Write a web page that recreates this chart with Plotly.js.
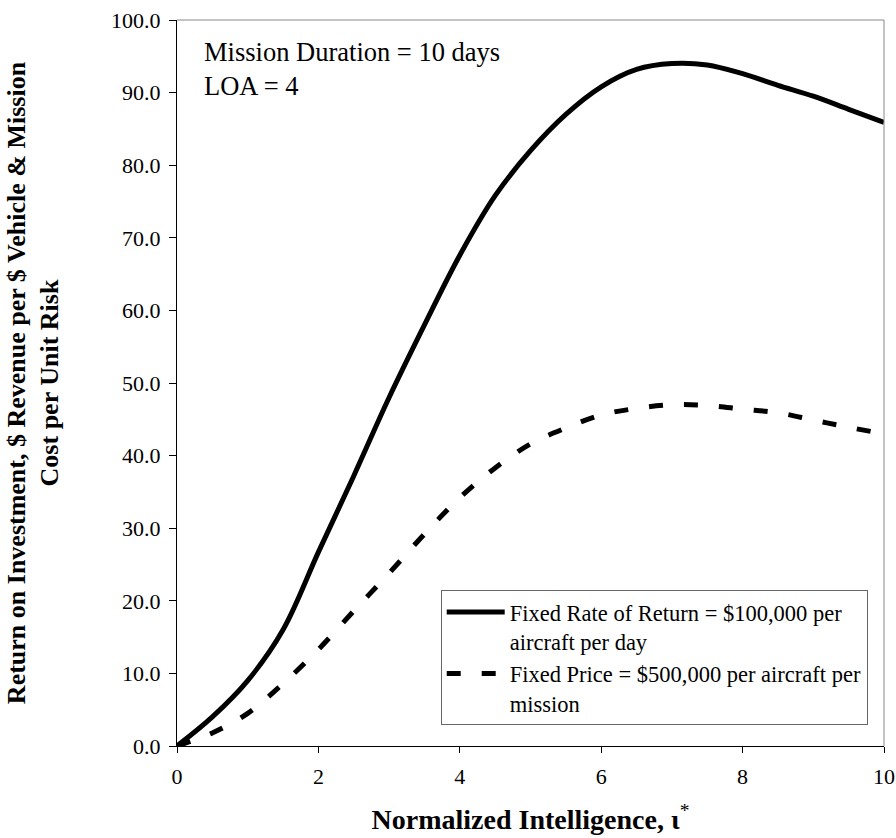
<!DOCTYPE html>
<html>
<head>
<meta charset="utf-8">
<script src="https://cdn.plot.ly/plotly-3.0.1.min.js"></script>
<style>html,body{margin:0;padding:0;background:#fff;}#chart{width:896px;height:838px;}</style>
</head>
<body>
<div id="chart"></div>
<script>
const xValues = [0, 0.5, 1, 1.5, 2, 2.5, 3, 3.5, 4, 4.5, 5, 5.5, 6, 6.5, 7, 7.5, 8, 8.5, 9, 9.5, 10];
const fixedRateROI = [0, 4.0, 9.0, 16.0, 26.7, 37.2, 48.0, 58.0, 67.6, 75.8, 82.0, 87.0, 90.8, 93.2, 94.0, 93.8, 92.6, 91.0, 89.5, 87.7, 85.9];
const fixedPriceROI = [0, 1.8, 4.5, 8.6, 13.3, 18.6, 23.8, 29.2, 34.2, 38.3, 41.6, 43.8, 45.6, 46.5, 47.0, 46.9, 46.4, 45.9, 44.9, 43.9, 43.0];
const seriesNames = ["Fixed Rate of Return = $100,000 per<br>aircraft per day", "Fixed Price = $500,000 per aircraft per<br>mission"];
const xTickVals = [0, 2, 4, 6, 8, 10];
const yTickVals = [0, 10, 20, 30, 40, 50, 60, 70, 80, 90, 100];
const noteText = "Mission Duration = 10 days<br>LOA = 4";
const xTitle = "\u00a0\u00a0\u00a0<b>Normalized Intelligence, \u03b9</b><sup>*</sup>";
const yTitle = "<b>Return on Investment, $ Revenue per $ Vehicle &amp; Mission<br>Cost per Unit Risk</b>";

const font = "Liberation Serif, Times New Roman, serif";

const traces = [
  {x: xValues, y: fixedRateROI, name: seriesNames[0], type: "scatter", mode: "lines",
   line: {color: "#000", width: 5, shape: "spline", smoothing: 1}},
  {x: xValues, y: fixedPriceROI, name: seriesNames[1], type: "scatter", mode: "lines",
   line: {color: "#000", width: 5, dash: "14px,21px", shape: "spline", smoothing: 1}}
];

const layout = {
  width: 896, height: 838,
  margin: {l: 177, r: 12, t: 20, b: 92},
  paper_bgcolor: "#fff", plot_bgcolor: "#fff",
  font: {family: font, size: 22, color: "#000"},
  showlegend: true,
  legend: {x: 0.373, y: 0.215, xanchor: "left", yanchor: "top",
    bgcolor: "#fff", bordercolor: "#666", borderwidth: 1,
    font: {family: font, size: 22.5, color: "#000"}, valign: "top",
    itemwidth: 58, tracegroupgap: 6},
  xaxis: {range: [0, 10], tickvals: xTickVals, ticktext: xTickVals.map(String),
    showgrid: false, zeroline: false, showline: true, linecolor: "#000", linewidth: 1,
    ticks: "outside", ticklen: 6, tickcolor: "#000", ticklabelstandoff: 5,
    tickfont: {family: font, size: 22},
    title: {text: xTitle, font: {family: font, size: 28}, standoff: 20}},
  yaxis: {range: [0, 100], tickvals: yTickVals, ticktext: yTickVals.map(v => v.toFixed(1)),
    showgrid: false, zeroline: false, showline: true, linecolor: "#000", linewidth: 1,
    ticks: "outside", ticklen: 7, tickcolor: "#000", ticklabelstandoff: 4,
    tickfont: {family: font, size: 22},
    title: {text: yTitle, font: {family: font, size: 26}, standoff: 44}},
  shapes: [
    {type: "line", xref: "paper", yref: "paper", x0: 0, x1: 1, y0: 1, y1: 1, line: {color: "#888", width: 1}},
    {type: "line", xref: "paper", yref: "paper", x0: 1, x1: 1, y0: 0, y1: 1, line: {color: "#888", width: 1}}
  ],
  annotations: [
    {text: noteText, xref: "paper", yref: "paper", x: 0.036, y: 0.98, xanchor: "left", yanchor: "top",
     align: "left", showarrow: false, font: {family: font, size: 26.5, color: "#000"}}
  ]
};

Plotly.newPlot("chart", traces, layout, {displayModeBar: false, staticPlot: true});
</script>
</body>
</html>
